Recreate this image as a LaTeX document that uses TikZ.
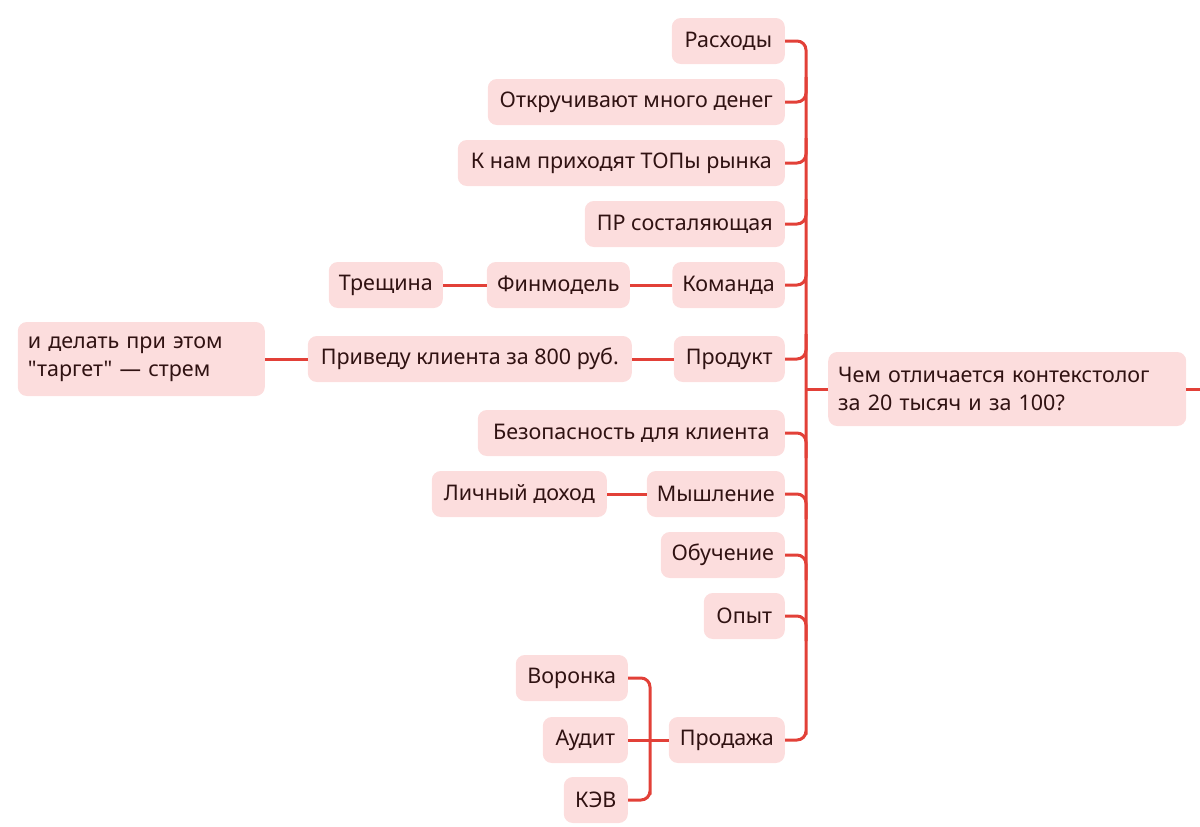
\documentclass[tikz,border=0pt]{standalone}
\usepackage{fontspec}
\newfontfamily\mapfont{Noto Sans}
\definecolor{boxfill}{RGB}{252,221,221}
\definecolor{linered}{RGB}{226,64,56}
\definecolor{txt}{RGB}{48,18,18}
\begin{document}
\begin{tikzpicture}[x=1pt,y=-1pt,
  box/.style={fill=boxfill, rounded corners=9pt, text=txt, font=\mapfont\fontsize{21.5}{28}\selectfont,
    minimum height=46pt, inner xsep=10pt, inner ysep=4pt, anchor=east, align=center},
  wide/.style={box, align=left, text width=#1, minimum height=74pt},
  conn/.style={draw=linered, line width=3pt, rounded corners=9pt}]
\useasboundingbox (0,0) rectangle (1200,827);
% main children
\node[box, minimum width=113pt] (c1) at (785,41) {Расходы};
\node[box, minimum width=297pt] (c2) at (785,102) {Откручивают много денег};
\node[box, minimum width=327pt] (c3) at (785,163) {К нам приходят ТОПы рынка};
\node[box, minimum width=200pt] (c4) at (785,224) {ПР состаляющая};
\node[box, minimum width=111pt] (c5) at (785,285) {Команда};
\node[box, minimum width=111pt] (c6) at (785,359) {Продукт};
\node[box, minimum width=307pt] (c7) at (785,433) {Безопасность для клиента};
\node[box, minimum width=135pt] (c8) at (785,494) {Мышление};
\node[box, minimum width=124pt] (c9) at (785,555) {Обучение};
\node[box, minimum width=81pt] (c10) at (785,616) {Опыт};
\node[box, minimum width=116pt] (c11) at (785,740) {Продажа};
% sub nodes
\node[box, minimum width=143pt] (f1) at (630,285) {Финмодель};
\node[box, minimum width=113pt] (f2) at (443,285) {Трещина};
\node[box, minimum width=324pt] (p1) at (632,359) {Приведу клиента за 800 руб.};
\node[wide=227pt] (p2) at (265,359) {и делать при этом\\"таргет" — стрем};
\node[box, minimum width=175pt] (m1) at (607,494) {Личный доход};
\node[box, minimum width=112pt] (s1) at (628,678) {Воронка};
\node[box, minimum width=85pt] (s2) at (628,740) {Аудит};
\node[box, minimum width=64pt] (s3) at (628,800) {КЭВ};
% root
\node[wide=338pt, anchor=west] (root) at (828,389) {Чем отличается контекстолог\\за 20 тысяч и за 100?};
\coordinate (spine) at (806,389);
\coordinate (rootout) at (1200,389);
\coordinate (sub) at (650,740);
% spine
\draw[conn] (c1.east) -| (spine |- c11.east) |- (c11.east);
\foreach \n in {c2,c3,c4,c5,c6} \draw[conn] (\n.east) -| ([yshift=25pt]spine |- \n.east);
\foreach \n in {c7,c8,c9,c10} \draw[conn] (\n.east) -| ([yshift=-25pt]spine |- \n.east);
\draw[conn] (root.west) -- (spine);
\draw[conn] (root.east) -- (rootout);
% sub links
\draw[conn] (c5.west) -- (f1.east);
\draw[conn] (f1.west) -- (f2.east);
\draw[conn] (c6.west) -- (p1.east);
\draw[conn] (p1.west) -- (p2.east);
\draw[conn] (c8.west) -- (m1.east);
\draw[conn] (s1.east) -| (sub |- s3.east) |- (s3.east);
\draw[conn] (s2.east) -- (c11.west);
\end{tikzpicture}
\end{document}
